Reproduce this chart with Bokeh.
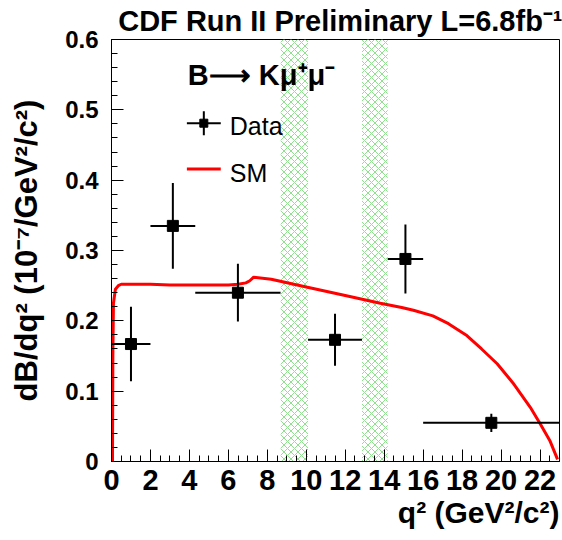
from bokeh.plotting import figure
from bokeh.models import Range1d, SingleIntervalTicker, Label, Title
from bokeh.embed import file_html
from bokeh.resources import INLINE

# ---- data ----
bin_lo = [0.0, 2.0, 4.3, 10.09, 14.18, 16.0]
bin_hi = [2.0, 4.3, 8.68, 12.86, 16.0, 23.0]
q2_center = [1.0, 3.15, 6.49, 11.475, 15.09, 19.5]
dbdq2 = [0.167, 0.335, 0.240, 0.173, 0.288, 0.055]
dbdq2_err = [0.053, 0.061, 0.041, 0.037, 0.049, 0.013]

veto_lo = [8.68, 12.86]
veto_hi = [10.09, 14.18]

sm_q2 = [0.05, 0.07, 0.1, 0.2, 0.35, 0.5, 1.0, 2.0, 3.0, 4.0, 5.0, 6.0, 6.5, 6.9,
         7.1, 7.3, 8.2, 10.0, 12.0, 13.8, 14.9, 15.5, 16.5, 17.3, 18.2, 19.0,
         19.8, 20.6, 21.5, 22.0, 22.5, 22.9]
sm_val = [0.0, 0.15, 0.225, 0.245, 0.250, 0.252, 0.252, 0.252, 0.251, 0.251, 0.251,
          0.251, 0.252, 0.254, 0.257, 0.262, 0.259, 0.248, 0.236, 0.225, 0.219,
          0.215, 0.207, 0.196, 0.180, 0.160, 0.139, 0.112, 0.077, 0.054, 0.030, 0.003]

X_MAX = 23.0
Y_MAX = 0.6
FONT = "Liberation Sans"

p = figure(width=562, height=540, output_backend="svg", toolbar_location=None,
           x_range=Range1d(0, X_MAX), y_range=Range1d(0, Y_MAX + 1e-9),
           min_border_left=111, min_border_right=3, min_border_top=38,
           min_border_bottom=79)
p.grid.visible = False
p.outline_line_color = "black"
p.outline_line_width = 1
p.background_fill_color = "white"
p.border_fill_color = "white"

p.xaxis.ticker = SingleIntervalTicker(interval=2, num_minor_ticks=4)
p.yaxis.ticker = SingleIntervalTicker(interval=0.1, num_minor_ticks=5)
p.yaxis.major_label_overrides = {0: "0"}
for ax in (p.xaxis[0], p.yaxis[0]):
    ax.major_tick_in = 12
    ax.major_tick_out = 0
    ax.minor_tick_in = 6
    ax.minor_tick_out = 0
    ax.major_tick_line_color = "black"
    ax.minor_tick_line_color = "black"
    ax.axis_line_color = "black"
    ax.major_label_text_font = FONT
    ax.major_label_text_font_style = "bold"
    ax.major_label_text_color = "black"
p.xaxis.major_label_text_font_size = "29px"
p.yaxis.major_label_text_font_size = "24px"
p.xaxis.major_label_standoff = 8
p.yaxis.major_label_standoff = 13

p.yaxis.axis_label = "dB/dq² (10⁻⁷/GeV²/c²)"
p.yaxis.axis_label_text_font = FONT
p.yaxis.axis_label_text_font_style = "bold"
p.yaxis.axis_label_text_font_size = "31px"
p.yaxis.axis_label_text_color = "black"
p.yaxis.axis_label_standoff = 18

# veto bands
p.quad(left=veto_lo, right=veto_hi, bottom=0, top=Y_MAX, fill_alpha=0, line_alpha=0,
       hatch_pattern="diagonal_cross", hatch_color="#8ee08e", hatch_scale=7,
       hatch_weight=1)

# SM curve
p.line(sm_q2, sm_val, line_color="red", line_width=3)

# data with error bars
y_lo = [v - e for v, e in zip(dbdq2, dbdq2_err)]
y_hi = [v + e for v, e in zip(dbdq2, dbdq2_err)]
p.segment(x0=bin_lo, x1=bin_hi, y0=dbdq2, y1=dbdq2, line_color="black", line_width=2)
p.segment(x0=q2_center, x1=q2_center, y0=y_lo, y1=y_hi, line_color="black", line_width=2)
p.scatter(q2_center, dbdq2, marker="square", size=11, color="black")

# title and x-axis title
p.add_layout(Title(text="CDF Run II Preliminary L=6.8fb⁻¹", align="right", offset=-3,
                   standoff=5, text_font=FONT, text_font_style="bold",
                   text_font_size="29px", text_color="black"), "above")
p.add_layout(Title(text="q² (GeV²/c²)", align="right", offset=0, standoff=2,
                   text_font=FONT, text_font_style="bold", text_font_size="30px",
                   text_color="black"), "below")

# legend (drawn by hand)
LX, LY = 3.92, 0.549
p.add_layout(Label(x=LX, y=LY, text="B⟶ Kμ⁺μ⁻", text_baseline="middle",
                   text_font=FONT, text_font_style="bold", text_font_size="29px",
                   text_color="black"))
p.segment(x0=[3.87], x1=[5.61], y0=[0.481], y1=[0.481], line_color="black", line_width=2)
p.segment(x0=[4.74], x1=[4.74], y0=[0.464], y1=[0.498], line_color="black", line_width=2)
p.scatter([4.74], [0.481], marker="square", size=8, color="black")
p.add_layout(Label(x=6.07, y=0.477, text="Data", text_baseline="middle",
                   text_font=FONT, text_font_size="25px", text_color="black"))
p.segment(x0=[3.87], x1=[5.61], y0=[0.416], y1=[0.416], line_color="red", line_width=3)
p.add_layout(Label(x=6.07, y=0.41, text="SM", text_baseline="middle",
                   text_font=FONT, text_font_size="25px", text_color="black"))

open("out.html", "w").write(file_html(p, INLINE))
